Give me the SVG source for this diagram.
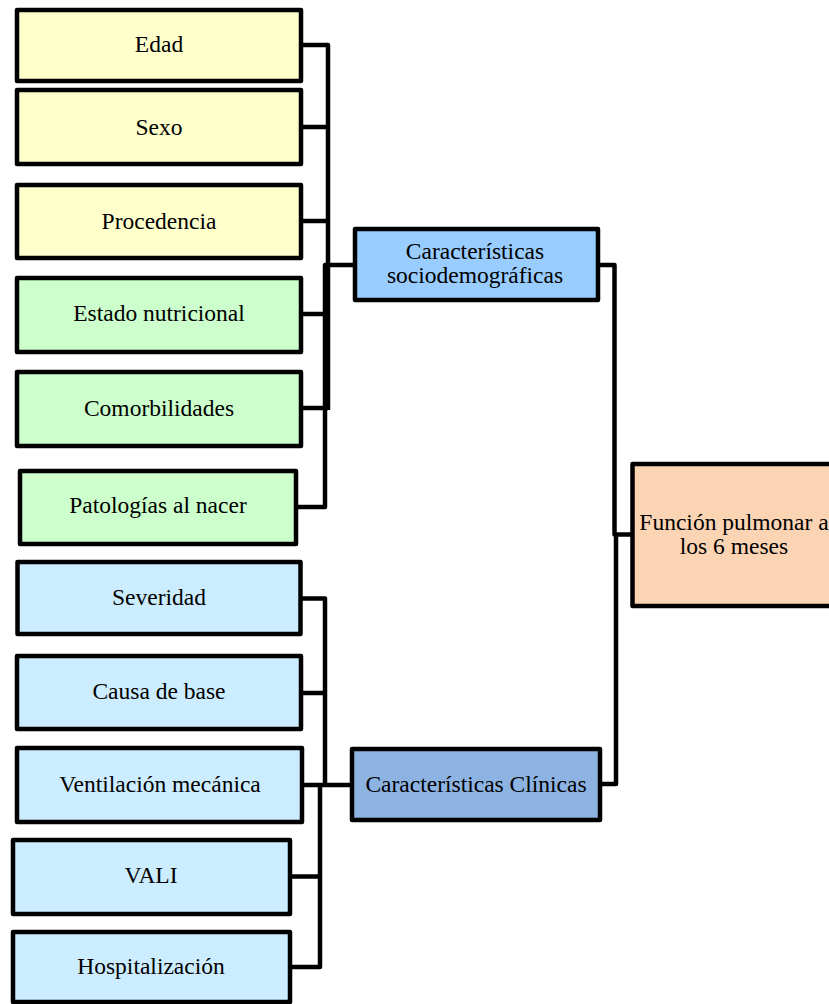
<svg xmlns="http://www.w3.org/2000/svg" width="829" height="1004" viewBox="0 0 829 1004">
<style>
.box{stroke:#000;stroke-width:4.5;stroke-linejoin:round}
.y{fill:#FFFFCC}.g{fill:#CCFFCC}.b{fill:#CCECFF}.s{fill:#99CCFF}.c{fill:#8DB3E2}.f{fill:#FBD4B4}
text{font-family:"Liberation Serif","Times New Roman","DejaVu Serif",serif;font-size:23.5px;fill:#000;text-anchor:middle}
.con{fill:none;stroke:#000;stroke-width:4.5;stroke-linejoin:round;stroke-linecap:butt}
</style>
<rect width="829" height="1004" fill="#fff"/>
<g id="connectors">
<path class="con" d="M301 45H328V410M301 127H328M301 221H328M301 408H328"/>
<path class="con" d="M355 265H325V507H296M301 314H325"/>
<path class="con" d="M598 265H614.5V534.5H632.5M616 534.5V784H600"/>
<path class="con" d="M300.5 598.5H325V786M301 693H325M302 785H352M320 785V967H290M290 876.5H320"/>
</g>
<g id="edad"><rect class="box y" x="17" y="10" width="284" height="71"/><text x="159" y="52">Edad</text></g>
<g id="sexo"><rect class="box y" x="17" y="90" width="284" height="74"/><text x="159" y="135">Sexo</text></g>
<g id="procedencia"><rect class="box y" x="17" y="185" width="284" height="73"/><text x="159" y="229">Procedencia</text></g>
<g id="estado"><rect class="box g" x="17" y="278" width="284" height="74"/><text x="159" y="321">Estado nutricional</text></g>
<g id="comorbilidades"><rect class="box g" x="17" y="372" width="284" height="74"/><text x="159" y="416">Comorbilidades</text></g>
<g id="patologias"><rect class="box g" x="20" y="471" width="276" height="73"/><text x="158" y="513">Patologías al nacer</text></g>
<g id="severidad"><rect class="box b" x="17.5" y="562" width="283" height="72"/><text x="159" y="605">Severidad</text></g>
<g id="causa"><rect class="box b" x="17" y="656" width="284" height="73"/><text x="159" y="699">Causa de base</text></g>
<g id="ventilacion"><rect class="box b" x="17" y="748" width="285" height="74"/><text x="160" y="792">Ventilación mecánica</text></g>
<g id="vali"><rect class="box b" x="13" y="840" width="277" height="74"/><text x="151" y="883">VALI</text></g>
<g id="hospitalizacion"><rect class="box b" x="13" y="932" width="277" height="70"/><text x="151" y="974">Hospitalización</text></g>
<g id="socio"><rect class="box s" x="355" y="229" width="243" height="71"/><text x="475" y="259">Características</text><text x="475" y="283">sociodemográficas</text></g>
<g id="clinicas"><rect class="box c" x="352" y="749" width="248" height="71"/><text x="476" y="792">Características Clínicas</text></g>
<g id="funcion"><rect class="box f" x="632.5" y="464" width="220" height="142"/><text x="734" y="530">Función pulmonar a</text><text x="734" y="554">los 6 meses</text></g>
</svg>
